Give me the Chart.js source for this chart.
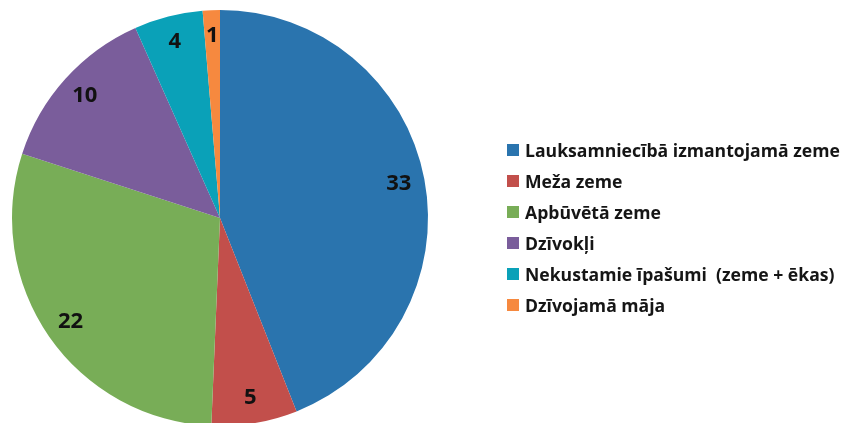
<!DOCTYPE html>
<html>
<head>
<meta charset="utf-8">
<script src="https://cdn.jsdelivr.net/npm/chart.js@4"></script>
<style>
    body { margin: 0; background: #fff; }
    #wrap { position: relative; width: 844px; height: 423px; }
    #legend { position: absolute; left: 507px; top: 134px; font: bold 17.6px "Open Sans", sans-serif; color: #151515; }
    .item { display: flex; align-items: center; height: 31px; white-space: pre; }
    .box { width: 12px; height: 12px; margin-right: 6px; }
</style>
</head>
<body>
<div id="wrap">
    <canvas id="chart" width="844" height="423"></canvas>
    <div id="legend"></div>
</div>
<script>
const labels = [
    'Lauksamniecībā izmantojamā zeme',
    'Meža zeme',
    'Apbūvētā zeme',
    'Dzīvokļi',
    'Nekustamie īpašumi  (zeme + ēkas)',
    'Dzīvojamā māja'
]
const values = [33, 5, 22, 10, 4, 1]
const colors = ['#2a74ae', '#c24f4b', '#78ad57', '#7a5d9b', '#0aa1b8', '#f6893f']

// value labels inside slices
const sliceLabels = {
    id: 'sliceLabels',
    afterDatasetsDraw(chart) {
        const ctx = chart.ctx
        const arcs = chart.getDatasetMeta(0).data
        ctx.save()
        ctx.font = 'bold 22px "Open Sans", sans-serif'
        ctx.fillStyle = '#111'
        ctx.textAlign = 'center'
        ctx.textBaseline = 'middle'
        arcs.forEach((arc, i) => {
            const p = arc.getProps(['x', 'y', 'startAngle', 'endAngle', 'outerRadius'], true)
            const mid = (p.startAngle + p.endAngle) / 2
            const r = p.outerRadius * 0.875
            ctx.fillText(values[i], p.x + Math.cos(mid) * r, p.y + Math.sin(mid) * r)
        })
        ctx.restore()
    }
}

const chart = new Chart(document.getElementById('chart'), {
    type: 'pie',
    data: {
        labels: labels,
        datasets: [{
            data: values,
            backgroundColor: colors,
            borderWidth: 0
        }]
    },
    options: {
        responsive: false,
        animation: false,
        radius: 208,
        layout: { padding: { left: 12, right: 416, top: 13, bottom: 0 } },
        plugins: {
            legend: { display: false },
            tooltip: { enabled: false }
        }
    },
    plugins: [sliceLabels]
})

const legend = document.getElementById('legend')
labels.forEach((label, i) => {
    const item = document.createElement('div')
    item.className = 'item'
    const box = document.createElement('span')
    box.className = 'box'
    box.style.background = colors[i]
    const text = document.createElement('span')
    text.textContent = label
    item.append(box, text)
    legend.append(item)
})
</script>
</body>
</html>
